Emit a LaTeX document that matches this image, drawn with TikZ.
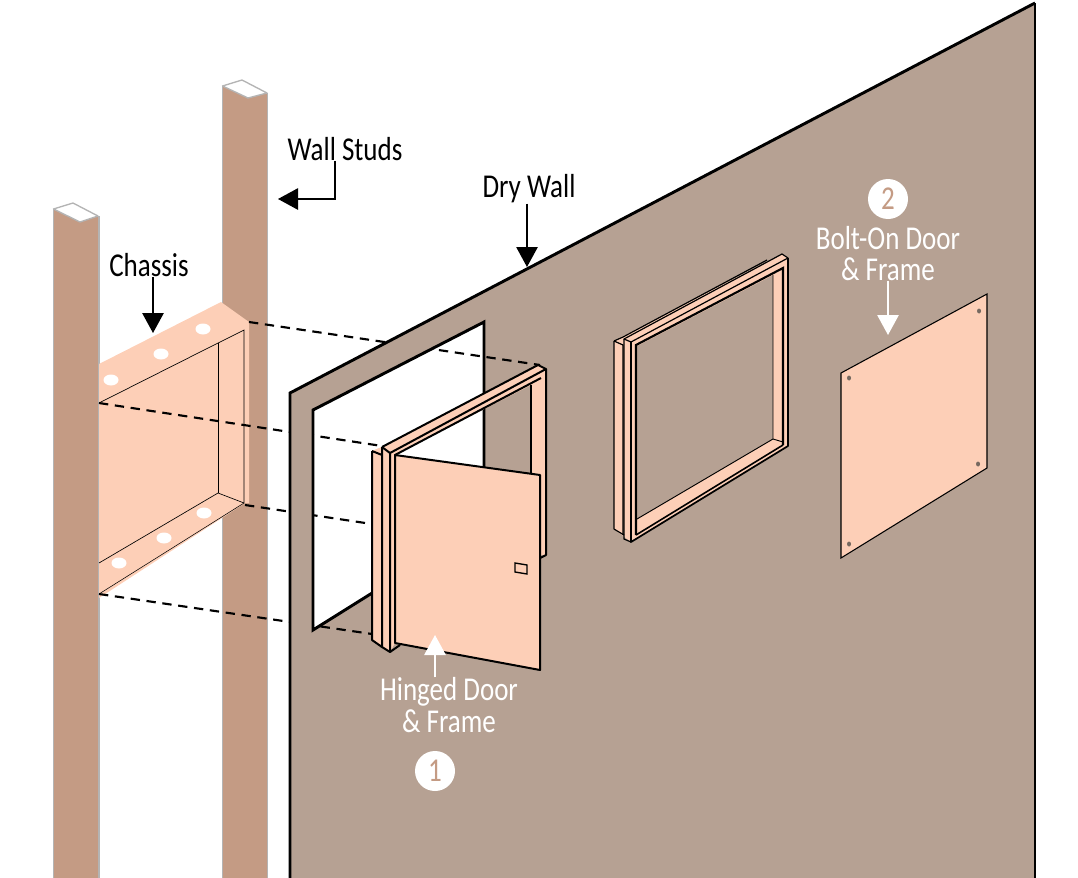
\documentclass[tikz,border=0pt]{standalone}
\usepackage{fontspec}
\setmainfont{Carlito}[FakeStretch=0.81]
\usetikzlibrary{arrows.meta}
\definecolor{studcolor}{HTML}{C49B84}
\definecolor{wallcolor}{HTML}{B6A193}
\definecolor{peachcolor}{HTML}{FDCFB7}
\definecolor{edgecolor}{HTML}{B4B4B4}
\tikzset{
  stud/.style={fill=studcolor},
  studtop/.style={draw=edgecolor,fill=white,line width=1pt,line join=round},
  hole/.style={fill=white},
  thinline/.style={draw=black,line width=0.5pt},
  frameline/.style={draw=black,line width=1.5pt,line join=round},
  peach/.style={fill=peachcolor},
  dashline/.style={draw=black,line width=1.6pt,dash pattern=on 7pt off 5pt},
  blackarrow/.style={draw=black,line width=1.3pt,-{Triangle[length=15pt,width=16pt]}},
  whitearrow/.style={draw=white,line width=1.3pt,-{Triangle[length=15pt,width=16pt]}},
  blacklabel/.style={font=\fontsize{25}{25}\selectfont,text=black,inner sep=0pt},
  whitelabel/.style={font=\fontsize{25}{25}\selectfont,text=white,inner sep=0pt},
  numbadge/.style={circle,fill=white,minimum size=30pt,inner sep=0pt,text=studcolor,font=\fontsize{25}{25}\selectfont},
  screw/.style={fill=black!35!wallcolor}
}
\begin{document}
\begin{tikzpicture}[x=0.75pt,y=-0.75pt]

\useasboundingbox (0,0) rectangle (1078,878);

\fill [stud] (53,209) -- (80,222) -- (98,216) -- (98,878) -- (53,878) -- cycle;
\draw [edgecolor,line width=1pt] (53.5,209) -- (53.5,878);
\draw [edgecolor,line width=1pt] (99,216) -- (99,878);
\draw [studtop] (53.5,209) -- (73,203) -- (98,216) -- (80,222) -- cycle;

\fill [stud] (222,86) -- (248,98) -- (267,93) -- (267,878) -- (222,878) -- cycle;
\draw [edgecolor,line width=1pt] (222.5,86) -- (222.5,878);
\draw [edgecolor,line width=1pt] (267.5,93) -- (267.5,878);
\draw [studtop] (222.5,86) -- (242,80) -- (267,93) -- (248,98) -- cycle;

\fill [peach] (99,364) -- (221,302) -- (249,322) -- (249,503) -- (245,503) -- (99,598) -- cycle;
\draw [thinline] (99,403) -- (218,343) -- (244,330) -- (244,503) -- (218,493) -- (99,563);
\draw [thinline] (218,343) -- (218,493);
\draw [thinline,line width=0.4pt] (99,594) -- (244,503);
\foreach \hx/\hy in {203/329,161/354,111/380,204/513,164/538,119/563}
  \fill [hole] (\hx,\hy) ellipse [x radius=7.5,y radius=5.5];

\draw [dashline] (249,322) -- (540,365);
\draw [dashline] (99,403) -- (382,446);
\draw [dashline] (245,505) -- (372,524);
\draw [dashline] (99,594) -- (372,634);

\fill [wallcolor] (290,393) -- (1035,3) -- (1035,878) -- (290,878) -- cycle;
\draw [black,line width=2.2pt] (290,878) -- (290,393) -- (1035,3);
\draw [black,line width=1.2pt] (1035,3) -- (1035,878);

\draw [fill=white,line width=2.2pt,line join=miter] (313,410) -- (484,322) -- (484,523) -- (313,630) -- cycle;

\begin{scope}
  \clip (313,410) -- (484,322) -- (560,322) -- (560,400) -- (484,400) -- (484,523) -- (313,630) -- cycle;
  \draw [dashline] (249,322) -- (540,365);
  \draw [dashline] (99,403) -- (382,446);
  \draw [dashline] (245,505) -- (372,524);
\end{scope}
\begin{scope}
  \clip (313,600) rectangle (380,650);
  \draw [dashline] (99,594) -- (372,634);
\end{scope}

\fill [peach] (382,447) -- (538,365) -- (546,369) -- (546,555) -- (531,555) -- (531,385) -- (395,455) -- (395,643) -- (390,652) -- (372,640) -- (372,451) -- cycle;
\fill [peach] (372,451) -- (382,447) -- (390,453) -- (390,652) -- (382,647) -- (372,640) -- cycle;
\draw [frameline] (372,451) -- (382,455) (372,451) -- (372,640) -- (382,647);
\draw [frameline] (382,447) -- (382,647) -- (390,652) -- (400,645);
\draw [frameline] (382,447) -- (390,453) -- (390,652);
\draw [frameline] (382,447) -- (538,365) -- (546,369) -- (390,453);
\draw [frameline] (395,455) -- (395,643);
\draw [frameline] (395,455) -- (541,378);
\draw [frameline] (546,369) -- (546,555) -- (540,558);
\draw [thinline,line width=1pt] (531,385) -- (531,475);

\draw [peach,frameline] (395,455) -- (540,475) -- (540,670) -- (395,643) -- cycle;
\draw [line width=1pt] (515,563) -- (527,565) -- (527,574) -- (515,572) -- cycle;

\fill [peach,even odd rule] (614,341) -- (782,254) -- (788,258) -- (788,446) -- (631,542) -- (614,529) -- cycle
  (637,346) -- (773,275) -- (773,439) -- (637,519) -- cycle;
\draw [black,line width=0.9pt,line join=round] (614,341) -- (623,337) -- (767,260) (614,341) -- (614,529) -- (624,535);
\draw [black,line width=0.9pt] (614,341) -- (623,345) -- (623,535);
\draw [black,line width=0.9pt,line join=round] (624,339) -- (782,254) -- (788,258) -- (631,342) -- cycle;
\draw [black,line width=0.9pt] (624,339) -- (624,539) -- (631,542);
\draw [black,line width=1.3pt,line join=round] (631,342) -- (631,542) -- (788,446) -- (788,258);
\draw [black,line width=1.6pt,line join=miter] (636,535) -- (636,345) -- (783,268) -- (783,445);
\draw [black,line width=1.2pt] (636,535) -- (783,445);
\draw [black,line width=0.7pt] (773,275) -- (773,439) -- (637,519);
\draw [black,line width=0.7pt] (773,439) -- (783,442);

\draw [peach,draw=black,line width=0.8pt] (841,373) -- (987,294) -- (987,468) -- (841,558) -- cycle;
\foreach \sx/\sy in {979/311,849/378,978/464,849/544}
  \fill [screw] (\sx,\sy) ellipse [x radius=2,y radius=2.5];

\node (studslabel) at (345,149) [blacklabel] {Wall Studs};
\node (chassislabel) at (149,265) [blacklabel] {Chassis};
\node (drywalllabel) at (529,189) [blacklabel] {Dry Wall};
\node (hingedlabel) at (449,692) [whitelabel] {Hinged Door};
\node (hingedframe) at (449,721) [whitelabel] {\& Frame};
\node (boltlabel) at (888,238) [whitelabel] {Bolt-On Door};
\node (boltframe) at (888,269) [whitelabel] {\& Frame};
\node (badgeone) at (435,771) [numbadge] {1};
\node (badgetwo) at (888,199) [numbadge] {2};

\coordinate (studstip) at (278,199);
\coordinate (chassistip) at (153,333);
\coordinate (drywalltip) at (527,267);
\coordinate (hingedtip) at (435,635);
\coordinate (bolttip) at (888,335);

\draw [blackarrow] (studslabel.south -| 335,0) -- (335,199) -- (studstip);
\draw [blackarrow] (chassislabel.south -| chassistip) -- (chassistip);
\draw [blackarrow] (drywalllabel.south -| drywalltip) -- (drywalltip);
\draw [whitearrow] (hingedlabel.north -| hingedtip) -- (hingedtip);
\draw [whitearrow] (boltframe.south -| bolttip) -- (bolttip);

\end{tikzpicture}
\end{document}
